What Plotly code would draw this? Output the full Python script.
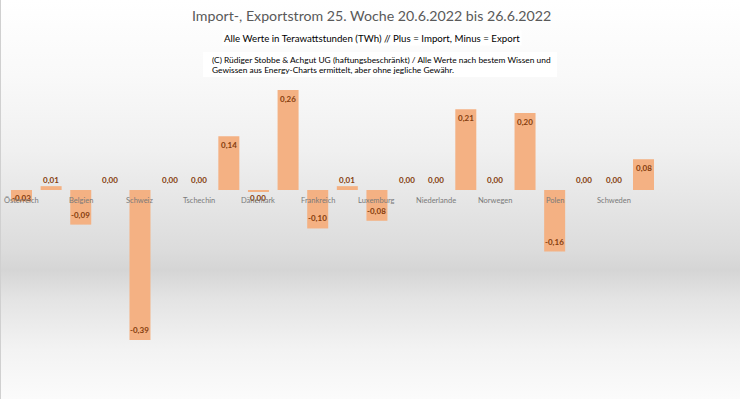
import plotly.graph_objects as go

# ---- data ----
laender = ["Österreich", "Belgien", "Schweiz", "Tschechin", "Dänemark", "Frankreich",
           "Luxemburg", "Niederlande", "Norwegen", "Polen", "Schweden"]
# two values per country (Export / Import), in TWh
werte = [-0.03, 0.01, -0.09, 0.00, -0.39, 0.00, 0.00, 0.14, -0.003, 0.26, -0.10, 0.01,
         -0.08, 0.00, 0.00, 0.21, 0.00, 0.20, -0.16, 0.00, 0.00, 0.08]

titel = "Import-, Exportstrom 25. Woche 20.6.2022 bis 26.6.2022"
untertitel = "Alle Werte in Terawattstunden (TWh) // Plus = Import, Minus = Export"
copyright_zeilen = ["(C) Rüdiger Stobbe & Achgut UG (haftungsbeschränkt) / Alle Werte nach bestem Wissen und",
                    "Gewissen aus Energy-Charts ermittelt, aber ohne jegliche Gewähr."]

BAR = "#F4B183"
LBL = "#843C0C"
FONT = "Lato, Carlito, Calibri, sans-serif"

W, H = 740, 399
px_per_cat = 29.62
x0_px = 21.5
zero_px = 190
px_per_unit = 384.6

xs = list(range(len(werte)))

def fmt(v):
    r = round(v, 2)
    s = f"{abs(r):.2f}".replace(".", ",")
    return ("-" + s) if r < 0 else s

fig = go.Figure()

# background gradient (on base axes, full paper)
fig.add_trace(go.Scatter(
    x=[0, 1, 1, 0, 0], y=[0, 0, 1, 1, 0], mode="lines", line=dict(width=0),
    fill="toself", hoverinfo="skip", showlegend=False,
    fillgradient=dict(type="vertical", colorscale=[
        [0.0, "#fbfbfb"], [0.123, "#f3f3f3"], [0.248, "#e4e4e4"], [0.323, "#d5d5d5"],
        [0.373, "#dcdcdc"], [0.499, "#e6e6e6"], [0.624, "#f0f0f0"], [0.81, "#f9f9f9"],
        [0.937, "#fdfdfd"], [1.0, "#ffffff"]]),
    xaxis="x", yaxis="y"))

fig.add_trace(go.Bar(
    x=xs, y=werte, width=0.709, marker=dict(color=BAR, line=dict(width=0)),
    hoverinfo="skip", showlegend=False, xaxis="x2", yaxis="y2"))

ann = []
for i, v in enumerate(werte):
    if v >= 0.05:
        y, ys = v, -9
    elif v >= 0:
        y, ys = 0, 10
    elif v > -0.05:
        y, ys = 0, -8
    else:
        y, ys = v, 10
    ann.append(dict(x=i, y=y, xref="x2", yref="y2", yshift=ys, text="<b>" + fmt(v) + "</b>",
                    showarrow=False, font=dict(family=FONT, size=8, color=LBL),
                    xanchor="center", yanchor="middle"))

for k, name in enumerate(laender):
    ann.append(dict(x=2 * k, y=0, xref="x2", yref="y2", yshift=-10, text=name,
                    showarrow=False, font=dict(family=FONT, size=7.5, color="#7a7a7a"),
                    xanchor="center", yanchor="middle"))

ann.append(dict(x=371 / W, y=1 - 15.5 / H, xref="paper", yref="paper", text=titel,
                showarrow=False, font=dict(family=FONT, size=14.2, color="#595959"),
                xanchor="center", yanchor="middle"))
ann.append(dict(x=371.5 / W, y=1 - 38 / H, xref="paper", yref="paper", text=untertitel,
                showarrow=False, font=dict(family=FONT, size=9.7, color="#000000"),
                xanchor="center", yanchor="middle", bgcolor="#ffffff"))

shapes = [
    dict(type="rect", xref="paper", yref="paper", x0=203 / W, x1=557 / W,
         y0=1 - 77 / H, y1=1 - 52 / H, fillcolor="#ffffff", line=dict(width=0), layer="above"),
    dict(type="line", xref="paper", yref="paper", x0=0.0007, x1=0.0007, y0=0, y1=1,
         line=dict(color="#d0d0d0", width=1)),
]
for j, (zeile, yc) in enumerate(zip(copyright_zeilen, [59.5, 69.5])):
    ann.append(dict(x=210 / W, y=1 - yc / H, xref="paper", yref="paper", text=zeile,
                    showarrow=False, align="left",
                    font=dict(family=FONT, size=8.4, color="#000000"),
                    xanchor="left", yanchor="middle"))

xr = [-x0_px / px_per_cat, (W - x0_px) / px_per_cat]
yr = [-(H - zero_px) / px_per_unit, zero_px / px_per_unit]

fig.update_layout(
    width=W, height=H, margin=dict(l=0, r=0, t=0, b=0),
    paper_bgcolor="#ffffff", plot_bgcolor="rgba(0,0,0,0)",
    xaxis=dict(range=[0, 1], domain=[0, 1], visible=False, fixedrange=True),
    yaxis=dict(range=[0, 1], domain=[0, 1], visible=False, fixedrange=True),
    xaxis2=dict(range=xr, overlaying="x", visible=False, fixedrange=True),
    yaxis2=dict(range=yr, overlaying="y", visible=False, fixedrange=True),
    annotations=ann, showlegend=False, shapes=shapes,
)

fig.write_html("out.html", config={"displayModeBar": False},
               post_script="document.body.style.margin='0';")
